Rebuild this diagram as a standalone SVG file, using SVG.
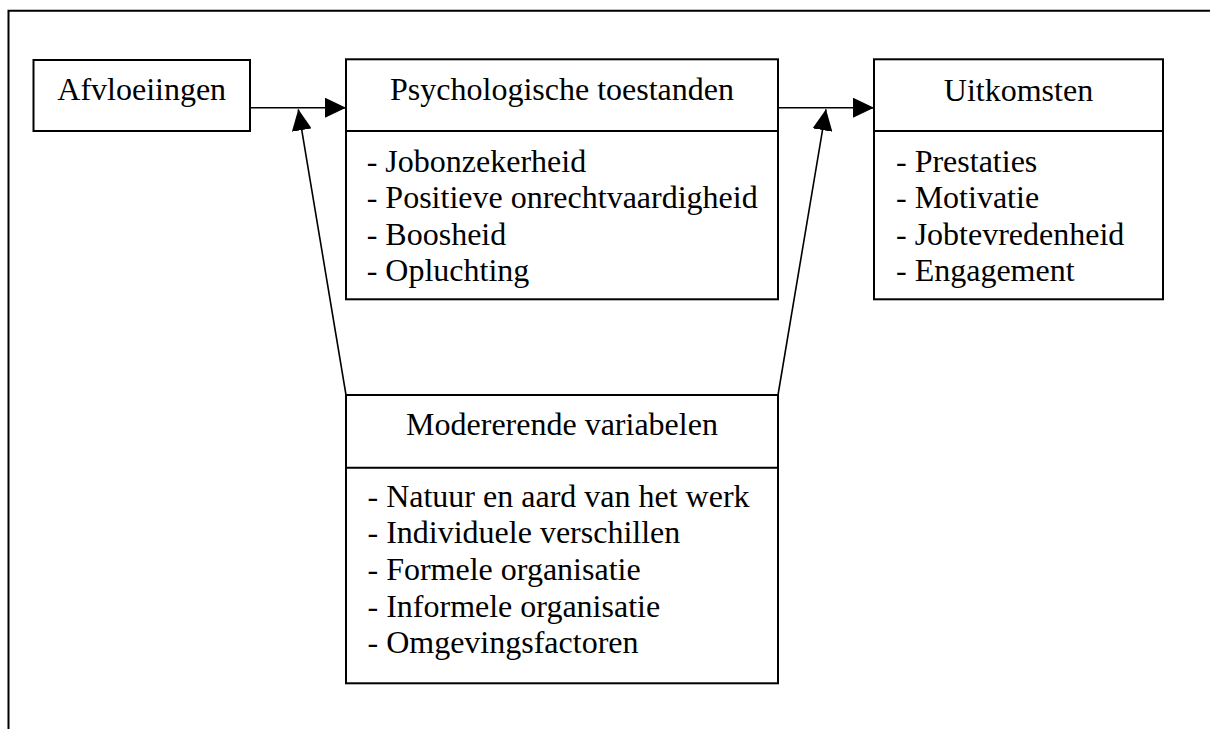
<svg xmlns="http://www.w3.org/2000/svg" width="1210" height="729" viewBox="0 0 1210 729">
  <style>
    .box { fill: #ffffff; stroke: #000000; stroke-width: 2; }
    .div { stroke: #000000; stroke-width: 2; fill: none; }
    .frame { fill: none; stroke: #000000; stroke-width: 2; }
    .conn { fill: none; stroke: #000000; stroke-width: 1.6; }
    text { font-family: "Liberation Serif", "Times New Roman", serif; font-size: 32px; fill: #000000; }
    .title { text-anchor: middle; }
  </style>
  <defs>
    <marker id="arrow" markerUnits="userSpaceOnUse" markerWidth="21" markerHeight="20" refX="21" refY="10" orient="auto">
      <path d="M0,0 L21,10 L0,20 Z" fill="#000000"/>
    </marker>
  </defs>
  <rect width="1210" height="729" fill="#ffffff"/>
  <path class="frame" d="M8.5,729 V10.7 H1210"/>

  <g id="connectors">
    <path class="conn" d="M250,107.7 H346" marker-end="url(#arrow)"/>
    <path class="conn" d="M346,395 L298.3,109.3" marker-end="url(#arrow)"/>
    <path class="conn" d="M778,107.7 H874" marker-end="url(#arrow)"/>
    <path class="conn" d="M778,395 L826,109.3" marker-end="url(#arrow)"/>
  </g>

  <g id="afvloeiingen">
    <rect class="box" x="33.5" y="60" width="216.5" height="71"/>
    <text class="title" x="141.7" y="99.5">Afvloeiingen</text>
  </g>

  <g id="psychologische-toestanden">
    <rect class="box" x="346" y="59.3" width="432" height="240"/>
    <line class="div" x1="346" y1="131" x2="778" y2="131"/>
    <text class="title" x="562" y="100">Psychologische toestanden</text>
    <text x="366.7" y="171.5">- Jobonzekerheid</text>
    <text x="366.7" y="208">- Positieve onrechtvaardigheid</text>
    <text x="366.7" y="244.5">- Boosheid</text>
    <text x="366.7" y="281">- Opluchting</text>
  </g>

  <g id="uitkomsten">
    <rect class="box" x="874" y="59.3" width="289" height="240"/>
    <line class="div" x1="874" y1="131" x2="1163" y2="131"/>
    <text class="title" x="1018.5" y="100.5">Uitkomsten</text>
    <text x="896" y="171.5">- Prestaties</text>
    <text x="896" y="208">- Motivatie</text>
    <text x="896" y="244.5">- Jobtevredenheid</text>
    <text x="896" y="281">- Engagement</text>
  </g>

  <g id="modererende-variabelen">
    <rect class="box" x="346" y="395" width="432" height="288.3"/>
    <line class="div" x1="346" y1="467.7" x2="778" y2="467.7"/>
    <text class="title" x="562" y="435">Modererende variabelen</text>
    <text x="367.5" y="506.7">- Natuur en aard van het werk</text>
    <text x="367.5" y="543.4">- Individuele verschillen</text>
    <text x="367.5" y="580">- Formele organisatie</text>
    <text x="367.5" y="616.7">- Informele organisatie</text>
    <text x="367.5" y="653.3">- Omgevingsfactoren</text>
  </g>
</svg>
